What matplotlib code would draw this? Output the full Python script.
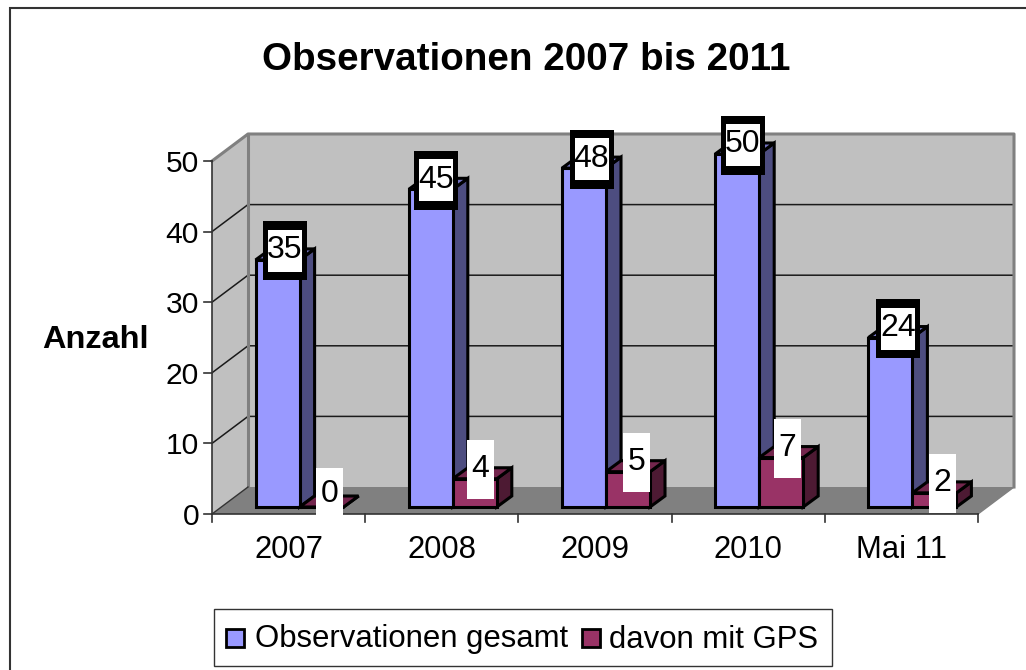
import matplotlib
matplotlib.use("Agg")
import matplotlib.pyplot as plt
from matplotlib.patches import Polygon, Rectangle
from matplotlib.lines import Line2D

plt.rcParams['font.family'] = ['Liberation Sans', 'DejaVu Sans']

categories = ['2007', '2008', '2009', '2010', 'Mai 11']
total = [35, 45, 48, 50, 24]
gps = [0, 4, 5, 7, 2]
series_names = ['Observationen gesamt', 'davon mit GPS']
y_ticks = [0, 10, 20, 30, 40, 50]

W, H = 1026, 670
fig = plt.figure(figsize=(W / 100, H / 100), dpi=100, facecolor='white')

# Front plane of the 3D box in pixels
L, R, Y0, Y50 = 212, 978, 514, 161
ax = fig.add_axes([L / W, 1 - Y0 / H, (R - L) / W, (Y0 - Y50) / H])
ax.set_xlim(0, 5)
ax.set_ylim(0, 50)
ax.axis('off')
PX = 5 / (R - L)
PY = 50 / (Y0 - Y50)
DX, DY = 36, 27


def P(x, v, ox=0, oy=0):
    return (x + ox * PX, v + oy * PY)


def poly(pts, fc, ec='black', lw=2.2, z=2):
    ax.add_patch(Polygon(pts, closed=True, fc=fc, ec=ec, lw=lw, zorder=z,
                         clip_on=False, joinstyle='miter'))


def box(x, v, ox, oy, w, h, fc, z):
    ax.add_patch(Rectangle(P(x, v, ox - w / 2, oy - h / 2), w * PX, h * PY,
                           fc=fc, ec='none', zorder=z, clip_on=False))


# walls and floor
poly([P(0, 0), P(0, 50), P(0, 50, DX, DY), P(0, 0, DX, DY)], '#C0C0C0', '#808080', 0, 1)
poly([P(0, 0, DX, DY), P(0, 50, DX, DY), P(5, 50, DX, DY), P(5, 0, DX, DY)], '#C0C0C0', '#808080', 0, 1)
poly([P(0, 0), P(5, 0), P(5, 0, DX, DY), P(0, 0, DX, DY)], '#808080', '#808080', 0, 1)
for t in y_ticks[1:-1]:
    ax.plot(*zip(P(0, t), P(0, t, DX, DY), P(5, t, DX, DY)), color='#1A1A1A', lw=1.1,
            zorder=1.5, clip_on=False)
ax.plot(*zip(P(0, 50), P(0, 50, DX, DY), P(5, 50, DX, DY), P(5, 0, DX, DY)),
        color='#808080', lw=2.2, zorder=1.5, clip_on=False)
ax.plot(*zip(P(5, 0, DX, DY), P(5, 0)), color='#808080', lw=1.0, zorder=1.5, clip_on=False)
ax.plot(*zip(P(0, 0, DX, DY), P(0, 50, DX, DY)), color='#808080', lw=2.2, zorder=1.5, clip_on=False)

# axes lines and ticks
ax.plot(*zip(P(0, 0), P(0, 50)), color='#333333', lw=1.2, zorder=1.6, clip_on=False)
ax.plot(*zip(P(0, 0), P(5, 0)), color='#333333', lw=1.2, zorder=1.6, clip_on=False)
ax.plot(*zip(P(0, 0), P(0, 0, DX, DY)), color='#333333', lw=1.0, zorder=1.6, clip_on=False)
for t in y_ticks:
    ax.plot(*zip(P(0, t), P(0, t, -8, 0)), color='#333333', lw=1.2, clip_on=False)
    ax.text(*P(0, t, -13, 0), str(t), ha='right', va='center_baseline', fontsize=21.6, color='black')
for i in range(6):
    ax.plot(*zip(P(i, 0), P(i, 0, 0, -8)), color='#333333', lw=1.2, clip_on=False)
for i, c in enumerate(categories):
    ax.text(*P(i + 0.5, 0, 0, -33), c, ha='center', va='center_baseline', fontsize=22.3, color='black')

# bars
BX, BY = 11, 7
SX, SY = 15, 11
BW = 44
BLUE = ('#9999FF', '#7373BF', '#4D4D80')
RED = ('#993366', '#73264D', '#4D1A33')


def bar(x0, v, cols, z):
    x1 = x0 + BW * PX
    o = lambda x, val, d=0: P(x, val, BX + d * SX, BY + d * SY)
    poly([o(x1, 0), o(x1, v), o(x1, v, 1), o(x1, 0, 1)], cols[2], z=z)
    poly([o(x0, v), o(x1, v), o(x1, v, 1), o(x0, v, 1)], cols[1], z=z)
    poly([o(x0, 0), o(x1, 0), o(x1, v), o(x0, v)], cols[0], z=z)


start = 0.5 - BW * PX
for i, (a, b) in enumerate(zip(total, gps)):
    bar(i + start, a, BLUE, 3)
    bar(i + start + BW * PX, b, RED, 4)

# data labels
nudge_a = [7.4, 5.2, 7.5, 5.3, 7.6]
nudge_b = [7.9, 5.7, 8.5, 6.3, 8.1]
for i, (a, b) in enumerate(zip(total, gps)):
    cx = i + 0.5 - BW / 2 * PX
    ox = BX + nudge_a[i]
    box(cx, a, ox, BY + 9, 44, 59, 'black', 6)
    box(cx, a, ox, BY + 9, 34, 42, 'white', 7)
    ax.text(*P(cx, a, ox, BY + 13), str(a), ha='center', va='center_baseline',
            fontsize=23, zorder=8)
    cx2 = i + 0.5 + BW / 2 * PX
    h = 48 if b == 0 else 59
    oy = 15 if b == 0 else 9.5
    ox2 = BX + nudge_b[i]
    box(cx2, b, ox2, BY + oy, 27, h, 'white', 7)
    ax.text(*P(cx2, b, ox2, BY + (16 if b == 0 else 13)), str(b), ha='center',
            va='center_baseline', fontsize=23, zorder=8)

# title, axis title
fig.text(526 / W, 1 - 56 / H, 'Observationen 2007 bis 2011', ha='center', va='center_baseline',
         fontsize=27.8, fontweight='bold')
fig.text(95 / W, 1 - 337 / H, 'Anzahl', ha='center', va='center_baseline', fontsize=23.4, fontweight='bold')

# legend
fig.add_artist(Rectangle((214 / W, 1 - 666 / H), 618 / W, 57 / H,
                         transform=fig.transFigure, fc='white', ec='#333333', lw=1))
for x, col, name, tx in [(226, BLUE[0], series_names[0], 255), (581.5, RED[0], series_names[1], 609)]:
    fig.add_artist(Rectangle((x / W, 1 - 647 / H), 18 / W, 18.5 / H, transform=fig.transFigure,
                             fc=col, ec='black', lw=2))
    fig.text(tx / W, 1 - 636 / H, name, ha='left', va='center_baseline', fontsize=22.4)

# chart border: left and top edges only, as in the picture
fig.add_artist(Line2D([10 / W, 10 / W, 1], [0, 1 - 8 / H, 1 - 8 / H], transform=fig.transFigure,
                      color='#333333', lw=1.5, solid_joinstyle='miter'))

fig.savefig('out.png', dpi=100)
